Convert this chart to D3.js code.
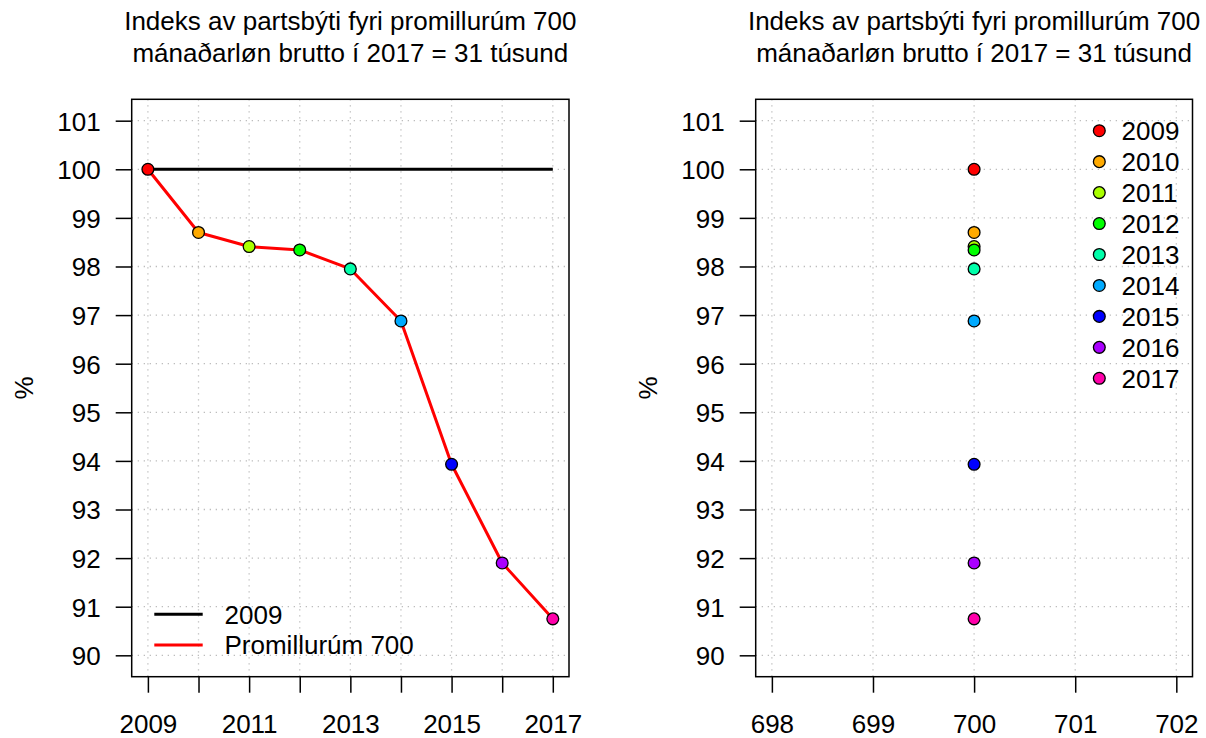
<!DOCTYPE html>
<html>
<head>
<meta charset="utf-8">
<script src="https://cdn.jsdelivr.net/npm/d3@7"></script>
<style>
  html, body { margin: 0; padding: 0; background: #fff; }
  svg { display: block; }
  text { font-family: "Liberation Sans", Arial, Helvetica, sans-serif; fill: #000; }
</style>
</head>
<body>
<svg id="chart" width="1206" height="738"></svg>
<script>
// ---------- data ----------
const years = [2009, 2010, 2011, 2012, 2013, 2014, 2015, 2016, 2017];
const index700 = [100, 98.70, 98.41, 98.34, 97.95, 96.88, 93.93, 91.90, 90.75];
const baseline2009 = [100, 100, 100, 100, 100, 100, 100, 100, 100];
const salaryGroup = 700;
const yTicks = [90, 91, 92, 93, 94, 95, 96, 97, 98, 99, 100, 101];
const xTicksLeft = [2009, 2010, 2011, 2012, 2013, 2014, 2015, 2016, 2017];
const xLabelsLeft = [2009, 2011, 2013, 2015, 2017];
const xTicksRight = [698, 699, 700, 701, 702];
const lineLegendLabels = ["2009", "Promillurúm 700"];
const titleLines = ["Indeks av partsbýti fyri promillurúm 700", "mánaðarløn brutto í 2017 = 31 túsund"];
const yLabel = "%";
// palette (R rainbow(9))
const yearColors = ["#FF0000", "#FFAA00", "#AAFF00", "#00FF00", "#00FFAA", "#00AAFF", "#0000FF", "#AA00FF", "#FF00AA"];

// ---------- layout ----------
const svg = d3.select("#chart");
const FS = 26;
const plotTop = 99.3, plotBottom = 676.7;
const panels = [
  { left: 131.7, right: 569, xDomain: [2009, 2017], xTicks: xTicksLeft, xLabels: xLabelsLeft, ylabX: 33 },
  { left: 755.7, right: 1192.5, xDomain: [698, 702], xTicks: xTicksRight, xLabels: xTicksRight, ylabX: 657 }
];
function padDomain(d) { const p = (d[1] - d[0]) * 0.04; return [d[0] - p, d[1] + p]; }

const yDom = padDomain([90, 101]);
const grid = { stroke: "#bdbdbd", width: 1.3, dash: "1.3,4.7" };

panels.forEach((P) => {
  const x = d3.scaleLinear().domain(padDomain(P.xDomain)).range([P.left, P.right]);
  const y = d3.scaleLinear().domain(yDom).range([plotBottom, plotTop]);
  P.x = x; P.y = y;
  const g = svg.append("g");

  // grid
  g.selectAll(".hg").data(yTicks).join("line")
    .attr("x1", P.left).attr("x2", P.right)
    .attr("y1", d => y(d)).attr("y2", d => y(d))
    .attr("stroke", grid.stroke).attr("stroke-width", grid.width).attr("stroke-dasharray", grid.dash);
  g.selectAll(".vg").data(P.xTicks).join("line")
    .attr("x1", d => x(d)).attr("x2", d => x(d))
    .attr("y1", plotTop).attr("y2", plotBottom)
    .attr("stroke", grid.stroke).attr("stroke-width", grid.width).attr("stroke-dasharray", grid.dash);

  // y axis
  const ya = g.append("g").attr("transform", `translate(${P.left},0)`)
    .call(d3.axisLeft(y).tickValues(yTicks).tickSize(16).tickPadding(15).tickFormat(d3.format("d")));
  ya.select(".domain").remove();
  ya.selectAll(".tick line").attr("stroke", "#000").attr("stroke-width", 1.5);
  ya.selectAll(".tick text").attr("font-size", FS).attr("dy", "0.36em");

  // x axis
  const xa = g.append("g").attr("transform", `translate(0,${plotBottom})`)
    .call(d3.axisBottom(x).tickValues(P.xTicks).tickSize(16).tickPadding(21.5)
      .tickFormat(d => P.xLabels.includes(d) ? String(d) : ""));
  xa.select(".domain").remove();
  xa.selectAll(".tick line").attr("stroke", "#000").attr("stroke-width", 1.5);
  xa.selectAll(".tick text").attr("font-size", FS).attr("dy", "0.71em");

  // box
  g.append("rect").attr("x", P.left).attr("y", plotTop)
    .attr("width", P.right - P.left).attr("height", plotBottom - plotTop)
    .attr("fill", "none").attr("stroke", "#000").attr("stroke-width", 1.5);

  // title
  const cx = (P.left + P.right) / 2;
  titleLines.forEach((t, i) => {
    svg.append("text").attr("x", cx).attr("y", 30 + i * 31.5)
      .attr("text-anchor", "middle").attr("font-size", FS).text(t);
  });

  // y label
  svg.append("text").attr("transform", `translate(${P.ylabX},${(plotTop + plotBottom) / 2}) rotate(-90)`)
    .attr("text-anchor", "middle").attr("font-size", FS).text(yLabel);
});

// ---------- left panel marks ----------
{
  const P = panels[0];
  const line = d3.line().x((d, i) => P.x(years[i])).y(d => P.y(d));
  svg.append("path").datum(baseline2009).attr("d", line)
    .attr("fill", "none").attr("stroke", "#000").attr("stroke-width", 3);
  svg.append("path").datum(index700).attr("d", line)
    .attr("fill", "none").attr("stroke", "#FF0000").attr("stroke-width", 3).attr("stroke-linejoin", "round");
  svg.selectAll(".pl").data(index700).join("circle")
    .attr("cx", (d, i) => P.x(years[i])).attr("cy", d => P.y(d)).attr("r", 5.9)
    .attr("fill", (d, i) => yearColors[i]).attr("stroke", "#000").attr("stroke-width", 1.3);

  // legend
  const legY = [614.3, 645];
  const legColors = ["#000", "#FF0000"];
  lineLegendLabels.forEach((lab, i) => {
    svg.append("line").attr("x1", 154.3).attr("x2", 202.7).attr("y1", legY[i]).attr("y2", legY[i])
      .attr("stroke", legColors[i]).attr("stroke-width", 3);
    svg.append("text").attr("x", 224.5).attr("y", legY[i]).attr("dy", "0.36em")
      .attr("font-size", FS).text(lab);
  });
}

// ---------- right panel marks ----------
{
  const P = panels[1];
  svg.selectAll(".pr").data(index700).join("circle")
    .attr("cx", P.x(salaryGroup)).attr("cy", d => P.y(d)).attr("r", 5.9)
    .attr("fill", (d, i) => yearColors[i]).attr("stroke", "#000").attr("stroke-width", 1.3);

  const lg = svg.append("g");
  years.forEach((yr, i) => {
    const yy = 130.7 + i * 30.95;
    lg.append("circle").attr("cx", 1099.3).attr("cy", yy).attr("r", 5.9)
      .attr("fill", yearColors[i]).attr("stroke", "#000").attr("stroke-width", 1.3);
    lg.append("text").attr("x", 1121.5).attr("y", yy).attr("dy", "0.36em")
      .attr("font-size", FS).text(String(yr));
  });
}
</script>
</body>
</html>
